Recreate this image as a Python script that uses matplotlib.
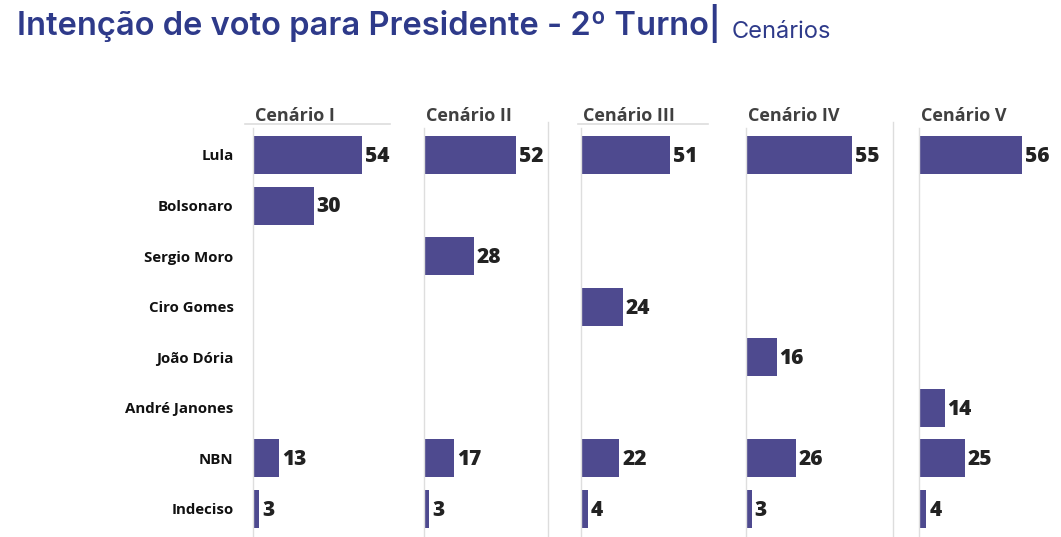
import matplotlib.pyplot as plt
from matplotlib.lines import Line2D

candidatos = ['Lula', 'Bolsonaro', 'Sergio Moro', 'Ciro Gomes', 'João Dória',
              'André Janones', 'NBN', 'Indeciso']
cenarios = ['Cenário I', 'Cenário II', 'Cenário III', 'Cenário IV', 'Cenário V']

# None = candidato fora do cenário
cen_1 = [54, 30, None, None, None, None, 13, 3]
cen_2 = [52, None, 28, None, None, None, 17, 3]
cen_3 = [51, None, None, 24, None, None, 22, 4]
cen_4 = [55, None, None, None, 16, None, 26, 3]
cen_5 = [56, None, None, None, None, 14, 25, 4]
valores = [cen_1, cen_2, cen_3, cen_4, cen_5]

bar_color = '#4e4a8f'
title_color = '#2e3a8a'
W, H = 1061, 537

plt.rcParams['font.family'] = ['Open Sans', 'DejaVu Sans']
fig = plt.figure(figsize=(W / 100, H / 100), dpi=100)

lefts = [253, 424, 581, 746, 919]
xmax = [64.4, 73.4, 74.3, 67.4, 70.7]      # each panel had its own scale
underline = [(245, 390), None, (578, 708), None, None]
ax_w = 130
top_px, bot_px = 128, 537
row0, step = 155, 50.57
ylo = -(row0 - top_px) / step
yhi = 7 + (bot_px - (row0 + 7 * step)) / step

for i, vals in enumerate(valores):
    ax = fig.add_axes([lefts[i] / W, 1 - bot_px / H, ax_w / W, (bot_px - top_px) / H])
    ys = [k for k, v in enumerate(vals) if v is not None]
    vs = [v for v in vals if v is not None]
    ax.barh(ys, vs, height=0.75, color=bar_color)
    for y, v in zip(ys, vs):
        ax.annotate(str(v), (v, y), xytext=(2, -1), textcoords='offset points',
                    va='center', ha='left', fontsize=15, fontweight='heavy', color='#222222')
    ax.set_xlim(0, xmax[i])
    ax.set_ylim(yhi, ylo)
    ax.set_xticks([])
    for s in ['top', 'right', 'bottom']:
        ax.spines[s].set_visible(False)
    ax.spines['left'].set_color('#dedede')
    ax.spines['left'].set_linewidth(1)
    if i == 0:
        ax.set_yticks(range(len(candidatos)))
        ax.set_yticklabels(candidatos, fontsize=10.8, fontweight='bold', color='#111111')
        ax.tick_params(axis='y', length=0, pad=14)
    else:
        ax.set_yticks([])
    fig.text((lefts[i] + 2) / W, 1 - 116 / H, cenarios[i], fontsize=13, fontweight='bold',
             color='#404040', va='center', ha='left')
    if underline[i]:
        x0, x1 = underline[i]
        fig.add_artist(Line2D([x0 / W, x1 / W], [1 - 124 / H, 1 - 124 / H],
                              color='#dddddd', lw=1.2))

# faint separators from the original layout
for xs in [548, 893]:
    fig.add_artist(Line2D([xs / W, xs / W], [1 - 122 / H, 0], color='#dddddd', lw=1))

t1 = fig.text(17 / W, 1 - 35 / H, 'Intenção de voto para Presidente - 2º Turno|',
              fontsize=23.5, fontweight='semibold', color=title_color, ha='left', va='baseline',
              family=['Inter', 'DejaVu Sans'])
fig.add_artist(plt.Annotation('Cenários', xy=(1, 0), xycoords=t1, xytext=(8, 0),
                              textcoords='offset points', fontsize=17, fontweight='normal',
                              color=title_color, ha='left', va='bottom',
                              family=['Inter', 'DejaVu Sans']))

fig.savefig('out.png', dpi=100)
